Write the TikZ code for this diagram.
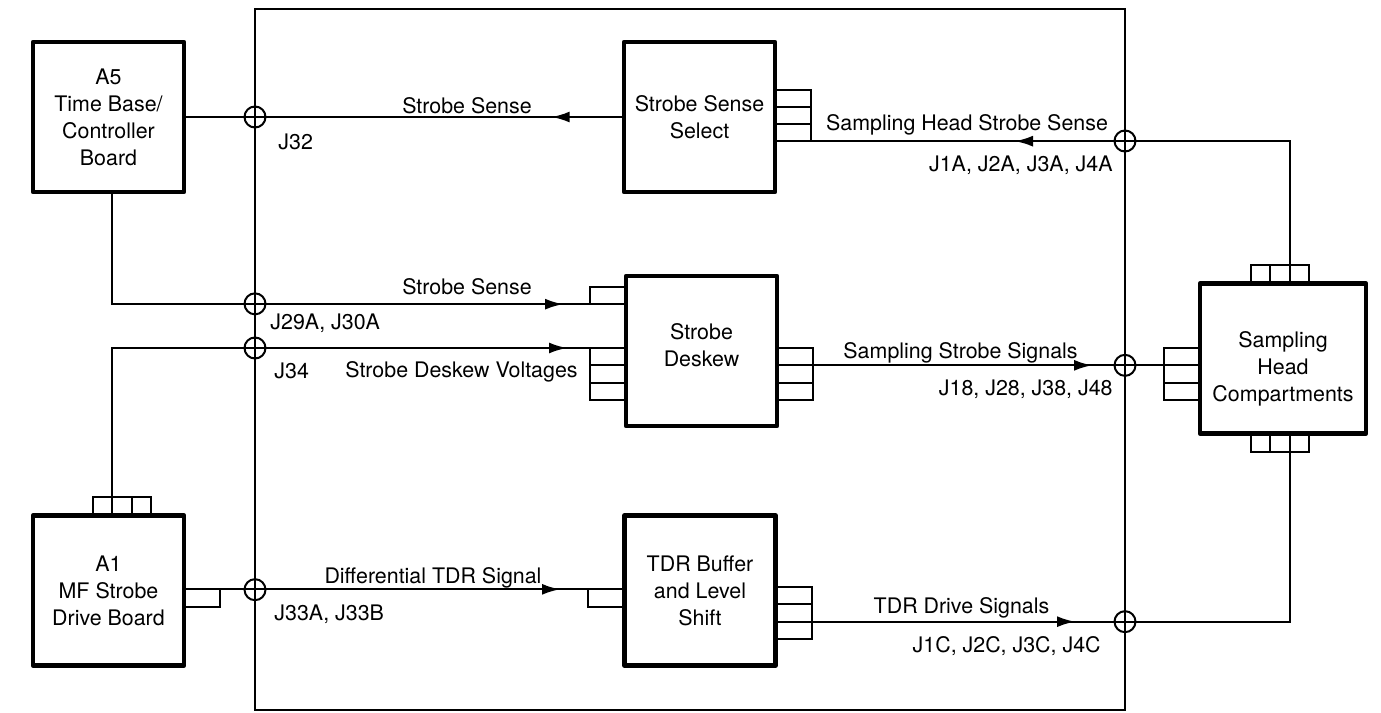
\documentclass[tikz,border=0pt]{standalone}
\usepackage{fontspec}
\setmainfont{TeX Gyre Heros}
\usepackage{tikz}
\usetikzlibrary{arrows.meta,positioning,decorations.markings}
\newcommand{\lbl}{\fontsize{10.7}{13.5}\selectfont}
\tikzset{
  board/.style={draw, line width=2.3pt, line join=round, minimum width=75.5pt, minimum height=75pt, align=center, inner sep=0pt, font=\lbl},
  tab/.style={draw, line width=1pt, minimum width=18pt, minimum height=8.67pt, inner sep=0pt, outer sep=0pt},
  tabv/.style={draw, line width=1pt, minimum width=9.67pt, minimum height=9.5pt, inner sep=0pt, outer sep=0pt},
  jack/.style={draw, circle, line width=1pt, minimum size=10.5pt, inner sep=0pt},
  sig/.style={line width=1pt},
  flow at/.style={postaction={decorate}, decoration={markings, mark=at position #1 with {\arrow{Latex[length=9pt,width=5.5pt]}}}},
  txt/.style={font=\lbl, inner sep=0pt},
}

\begin{document}
\begin{tikzpicture}[x=0.5pt,y=-0.5pt]
        \useasboundingbox (0,0) rectangle (1381,712);
        % chassis outline
        \draw[line width=1pt] (255,9) rectangle (1125,710);

        % boards
        \node[board] (a5) at (108.5,117) {A5\\Time Base/\\Controller\\Board};
        \node[board] (a1) at (108.5,590.5) {A1\\MF Strobe\\Drive Board};
        \node[board] (sss) at (699.5,117) {Strobe Sense\\Select};
        \node[board] (dsk) at (701.5,351) {};
        \node[txt, align=center] (dskt) at ([yshift=3pt]dsk.center) {Strobe\\Deskew};
        \node[board] (tdr) at (700,590.5) {TDR Buffer\\and Level\\Shift};
        \node[board, minimum width=83pt] (shc) at (1283,358.5) {};
        \node[txt, align=center] (shct) at ([yshift=-5pt]shc.center) {Sampling\\Head\\Compartments};

        % connector tabs
        \foreach \i/\x in {1/102.5,2/122,3/141.5}
          \node[tabv] (a1t\i) at (\x,506.5) {};
        \node[tab] (a1r) at (202,598) {};
        \node[tab] (dskl0) at (608,295.5) {};
        \foreach \i/\y in {1/356.67,2/374,3/391.33} {
          \node[tab] (dskl\i) at (608,\y) {};
          \node[tab] (dskr\i) at (795,\y) {};
          \node[tab] (shcl\i) at (1182,\y) {};
        }
        \foreach \i/\y in {1/98.5,2/115.5,3/132.5}
          \node[tab] (sssr\i) at (793,\y) {};
        \node[tab] (tdrl) at (606,598) {};
        \foreach \i/\y in {1/595.67,2/613,3/630.33}
          \node[tab] (tdrr\i) at (794,\y) {};
        \foreach \i/\x in {1/1260.67,2/1280,3/1299.33} {
          \node[tabv] (shct\i) at (\x,274.5) {};
          \node[tabv] (shcb\i) at (\x,442.5) {};
        }

        % signal paths
        \draw[sig, flow at=35pt] (sss.west) -- (a5.east);
        \draw[sig, flow at=-13.5pt] ([xshift=1.75pt]a5.south) |- (dskl0.south west);
        \draw[sig, flow at=-11.5pt] (a1t1.north east) |- (dskl1.north west);
        \draw[sig, flow at=-14pt] (a1r.north east) -- (tdrl.north west);
        \draw[sig, flow at=-36pt] (dskr2.north east) -- (shcl2.north west);
        \draw[sig, flow at=131.5pt] (tdrr3.north east) -| (shcb3.south west);
        \draw[sig, flow at=-102pt] (shct3.north west) |- (sssr3.south east);

        % bulkhead jacks
        \node[jack] (j32) at (255,117) {};
        \node[jack] (j29) at (255,303.83) {};
        \node[jack] (j34) at (255,348) {};
        \node[jack] (j33) at (255,589.67) {};
        \node[jack] (j1a) at (1125,141) {};
        \node[jack] (j18) at (1125,365.33) {};
        \node[jack] (j1c) at (1125,621.67) {};

        % labels
        \node[txt, anchor=base] (ssa) at (467,113) {Strobe Sense};
        \node[txt, anchor=base west] (j32l) at (278,149) {J32};
        \node[txt, anchor=base] (ssb) at (467,294) {Strobe Sense};
        \node[txt, anchor=base west] (j29l) at (270,329) {J29A, J30A};
        \node[txt, anchor=base west] (j34l) at (274,378) {J34};
        \node[txt, anchor=base east] (sdv) at (578,377) {Strobe Deskew Voltages};
        \node[txt, anchor=base] (dtdr) at (433,583) {Differential TDR Signal};
        \node[txt, anchor=base west] (j33l) at (274,620) {J33A, J33B};
        \node[txt, anchor=base] (shss) at (967,130) {Sampling Head Strobe Sense};
        \node[txt, anchor=base east] (j1al) at (1113,171) {J1A, J2A, J3A, J4A};
        \node[txt, anchor=base west] (sst) at (843,358) {Sampling Strobe Signals};
        \node[txt, anchor=base east] (j18l) at (1113,395) {J18, J28, J38, J48};
        \node[txt, anchor=base] (tdrs) at (961.5,613) {TDR Drive Signals};
        \node[txt, anchor=base east] (j1cl) at (1101,652) {J1C, J2C, J3C, J4C};
      \end{tikzpicture}
\end{document}
